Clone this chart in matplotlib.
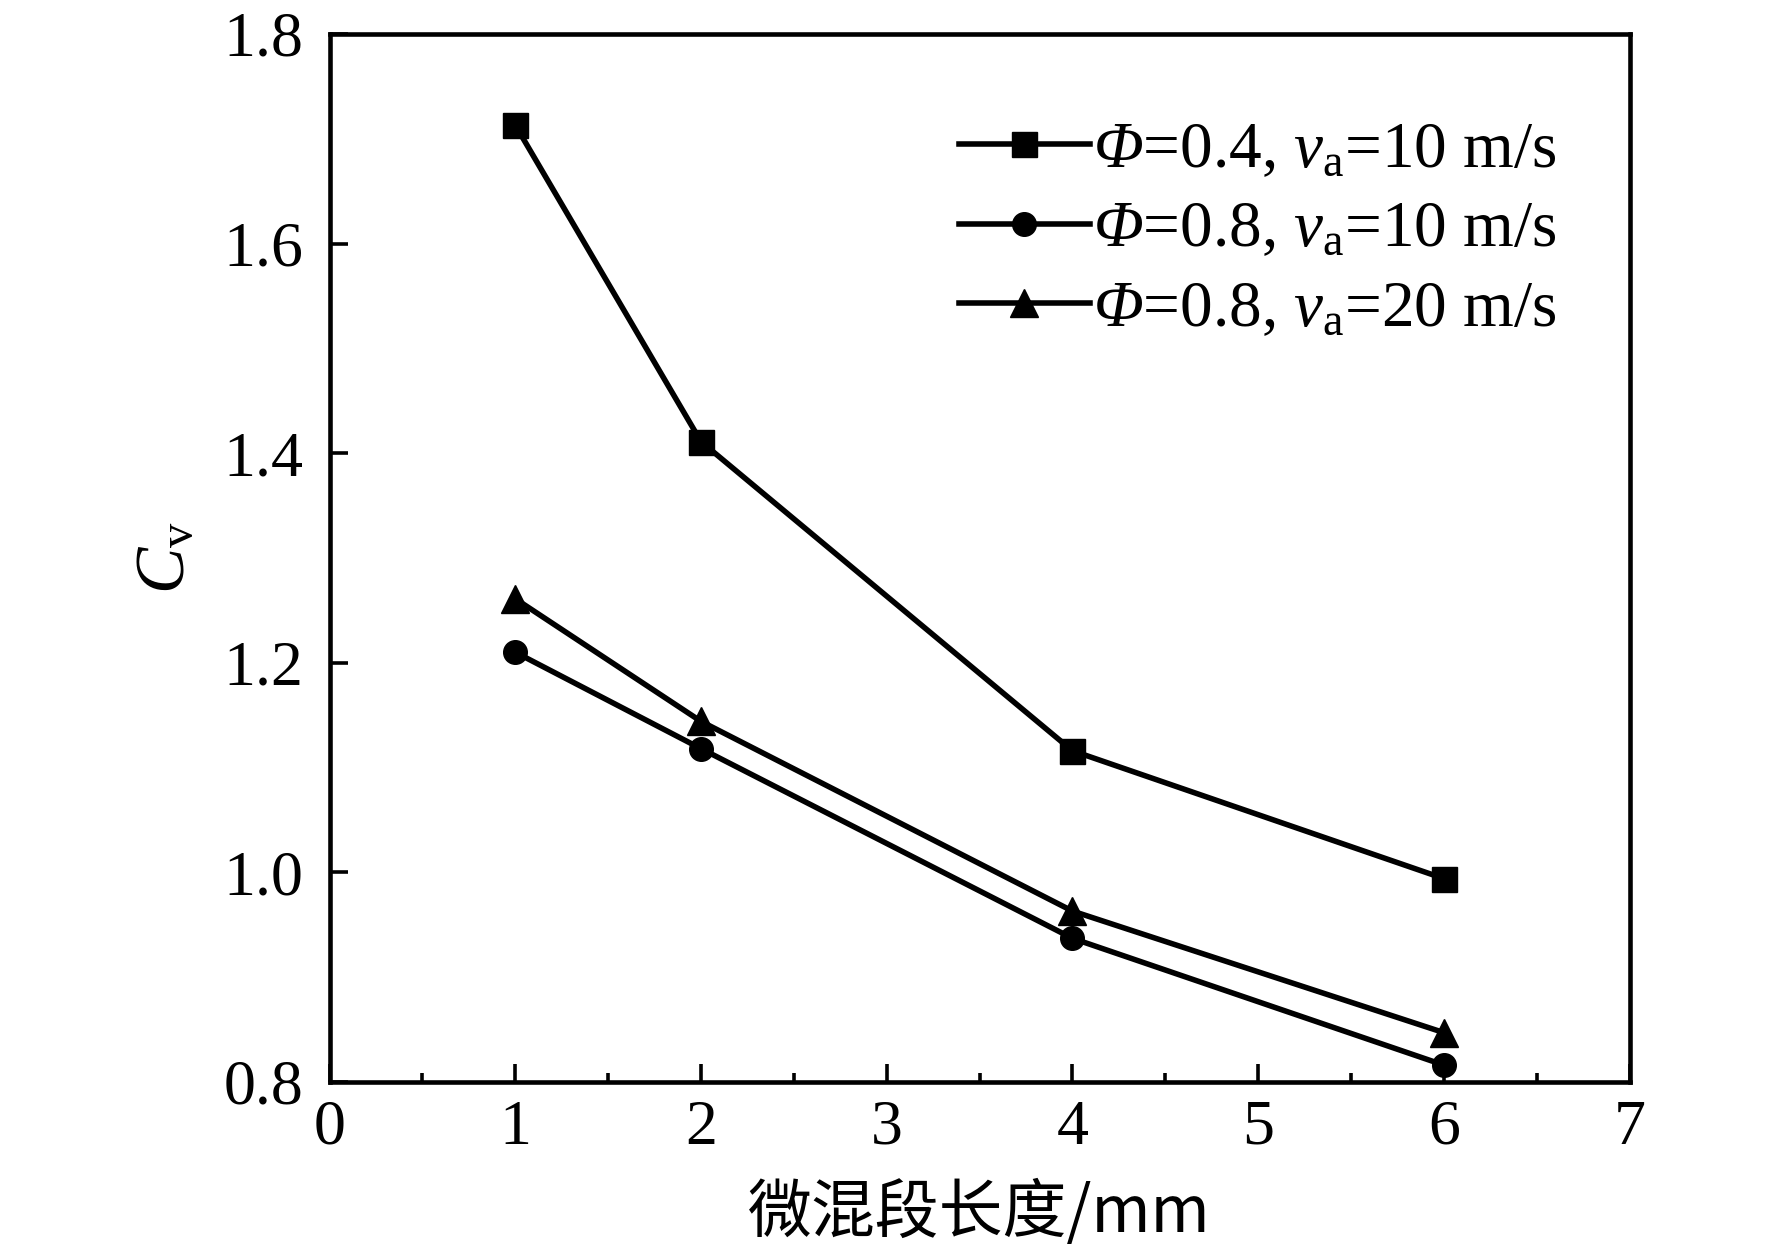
import matplotlib
matplotlib.use("Agg")
import matplotlib.pyplot as plt
from matplotlib.ticker import MultipleLocator

# data
length_mm = [1, 2, 4, 6]
cv_phi04_v10 = [1.713, 1.411, 1.116, 0.994]
cv_phi08_v10 = [1.210, 1.118, 0.937, 0.816]
cv_phi08_v20 = [1.261, 1.144, 0.963, 0.847]

# \mathcal is mapped to the italic serif so that Φ comes out slanted
labels = [
    r"$\mathcal{Φ}$=0.4, $v_\mathrm{a}$=10 m/s",
    r"$\mathcal{Φ}$=0.8, $v_\mathrm{a}$=10 m/s",
    r"$\mathcal{Φ}$=0.8, $v_\mathrm{a}$=20 m/s",
]
x_ticks = [0, 1, 2, 3, 4, 5, 6, 7]
y_ticks = [0.8, 1.0, 1.2, 1.4, 1.6, 1.8]

plt.rcParams["font.family"] = ["Liberation Serif", "Noto Sans CJK SC"]
plt.rcParams["mathtext.fontset"] = "custom"
plt.rcParams["mathtext.rm"] = "Liberation Serif"
plt.rcParams["mathtext.it"] = "Liberation Serif:italic"
plt.rcParams["mathtext.cal"] = "Liberation Serif:italic"

fig = plt.figure(figsize=(17.72, 12.59), dpi=100)
ax = fig.add_axes([0.186, 0.1407, 0.7336, 0.8323])

style = dict(color="black", linewidth=4.0)
ax.plot(length_mm, cv_phi04_v10, marker="s", markersize=18, label=labels[0], **style)
ax.plot(length_mm, cv_phi08_v10, marker="o", markersize=17, label=labels[1], **style)
ax.plot(length_mm, cv_phi08_v20, marker="^", markersize=20, label=labels[2], **style)

ax.set_xlim(0, 7)
ax.set_ylim(0.8, 1.8)
ax.set_xticks(x_ticks)
ax.set_yticks(y_ticks)
ax.set_yticklabels([f"{v:.1f}" for v in y_ticks])
ax.xaxis.set_minor_locator(MultipleLocator(0.5))

for side in ax.spines.values():
    side.set_linewidth(3.3)
ax.tick_params(axis="both", which="major", direction="in", length=12.7, width=2.6,
               labelsize=46)
ax.tick_params(axis="y", which="major", pad=19)
ax.tick_params(axis="x", which="major", pad=13)
ax.tick_params(axis="x", which="minor", direction="in", length=6.5, width=2.6)

ax.set_xlabel("微混段长度/mm", fontsize=46, labelpad=16,
              family=["Noto Sans CJK SC", "Liberation Serif"])
ax.set_ylabel(r"$\mathit{C}_\mathrm{v}$", fontsize=50, labelpad=18)

ax.legend(loc="upper right", bbox_to_anchor=(0.979, 0.96), frameon=False,
          fontsize=47, handlelength=2.0, handletextpad=0.05, labelspacing=0.3,
          borderaxespad=0.3)

fig.savefig("out.png", dpi=100)
plt.close(fig)
